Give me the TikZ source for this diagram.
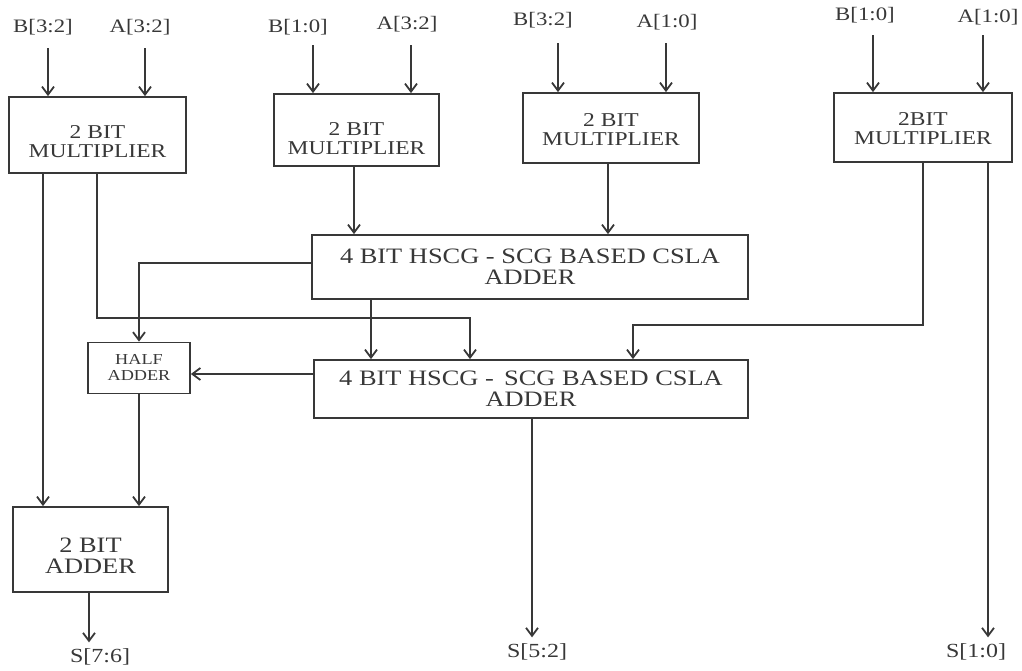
\documentclass[tikz,border=0pt]{standalone}
\usepackage{fontspec}
\setmainfont{Liberation Serif}[FakeStretch=1.2]
\usetikzlibrary{arrows.meta}
\definecolor{ink}{gray}{0.22}
\newcommand\lowtext[2]{\raisebox{#1}[\height][\depth]{\begin{tabular}{@{}c@{}}#2\end{tabular}}}
\tikzset{
  every node/.style={
    text=ink
  },
  blk/.style={draw=ink, line width=0.9pt, align=center, inner sep=1pt},
  mul/.style={blk, font=\fontsize{9.8}{9.5}\selectfont},
  csla/.style={blk, font=\fontsize{11}{10.5}\selectfont},
  wire/.style={draw=ink, line width=0.9pt},
  arr/.style={wire, -{Straight Barb[length=4pt,width=6pt]}},
  pin/.style={font=\fontsize{9.5}{10}\selectfont, inner sep=1pt},
  sum/.style={font=\fontsize{10}{10}\selectfont, inner sep=3pt}
}

\begin{document}
\begin{tikzpicture}[x=0.5pt, y=-0.5pt]
    %\draw[gray, very thin] (0,0) grid[step=50] (1022,670);
    \useasboundingbox (0,0) rectangle (1022,670);
    % multipliers
    \node[mul, minimum width=88.5pt, minimum height=38pt] (m1) at (97.5,135) {\lowtext{-4.5pt}{2 BIT\\MULTIPLIER}};
    \node[mul, minimum width=82.5pt, minimum height=36pt] (m2) at (356.5,130) {\lowtext{-5.5pt}{2 BIT\\MULTIPLIER}};
    \node[mul, minimum width=88pt, minimum height=35pt] (m3) at (611,128) {\lowtext{-2pt}{2 BIT\\MULTIPLIER}};
    \node[mul, minimum width=89pt, minimum height=34.5pt] (m4) at (923,127.5) {\lowtext{-2pt}{2BIT\\MULTIPLIER}};
    % adders
    \node[csla, minimum width=218pt, minimum height=32pt] (a1) at (530,267) {4 BIT HSCG - SCG BASED CSLA\\ADDER};
    \node[csla, minimum width=217pt, minimum height=29pt] (a2) at (531,389) {4 BIT HSCG -\, SCG BASED CSLA\\ADDER};
    \node[blk, font=\fontsize{7.6}{8}\selectfont, minimum width=51pt, minimum height=25.5pt] (ha) at (139,368) {\lowtext{-0.8pt}{HALF\\ADDER}};
    \node[blk, font=\fontsize{11}{10}\selectfont, minimum width=77.5pt, minimum height=42.5pt] (ad) at (90.5,549.5) {\lowtext{-4.5pt}{2 BIT\\ADDER}};
    % inputs
    \node[pin] (b32a) at (43,27) {B[3:2]};
    \node[pin] (a32a) at (140,27) {A[3:2]};
    \node[pin] (b10a) at (298,27) {B[1:0]};
    \node[pin] (a32b) at (407,24) {A[3:2]};
    \node[pin] (b32b) at (543,20) {B[3:2]};
    \node[pin] (a10a) at (667,22) {A[1:0]};
    \node[pin] (b10b) at (865,15) {B[1:0]};
    \node[pin] (a10b) at (988,17) {A[1:0]};
    \coordinate (i1) at (48,48);
    \coordinate (i2) at (145,48);
    \coordinate (i3) at (313,45);
    \coordinate (i4) at (411,45);
    \coordinate (i5) at (558,43);
    \coordinate (i6) at (666,43);
    \coordinate (i7) at (873,35);
    \coordinate (i8) at (983,35);
    \draw[arr] (i1) -- (i1 |- m1.north);
    \draw[arr] (i2) -- (i2 |- m1.north);
    \draw[arr] (i3) -- (i3 |- m2.north);
    \draw[arr] (i4) -- (i4 |- m2.north);
    \draw[arr] (i5) -- (i5 |- m3.north);
    \draw[arr] (i6) -- (i6 |- m3.north);
    \draw[arr] (i7) -- (i7 |- m4.north);
    \draw[arr] (i8) -- (i8 |- m4.north);
    % outputs
    \node[sum] (s76) at (100,657) {S[7:6]};
    \node[sum] (s52) at (537,652) {S[5:2]};
    \node[sum] (s10) at (976,652) {S[1:0]};
    % wiring
    \draw[arr] (43,0 |- m1.south) -- (43,0 |- ad.north);
    \draw[arr] (97,0 |- m1.south) -- (97,318) -| (470,0 |- a2.north);
    \draw[arr] (354,0 |- m2.south) -- (354,0 |- a1.north);
    \draw[arr] (608,0 |- m3.south) -- (608,0 |- a1.north);
    \draw[arr] (923,0 |- m4.south) -- (923,325) -| (633,0 |- a2.north);
    \draw[arr] (988,0 |- m4.south) -- (988,0 |- s10.north);
    \draw[arr] ([yshift=2pt]a1.west) -| (ha.north);
    \draw[arr] (371,0 |- a1.south) -- (371,0 |- a2.north);
    \draw[arr] ([yshift=-3pt]ha.east -| a2.west) -- ([yshift=-3pt]ha.east);
    \draw[arr] (ha.south) -- (ha.south |- ad.north);
    \draw[arr] (532,0 |- a2.south) -- (532,0 |- s52.north);
    \draw[arr] (89,0 |- ad.south) -- (89,0 |- s76.north);
\end{tikzpicture}
\end{document}
